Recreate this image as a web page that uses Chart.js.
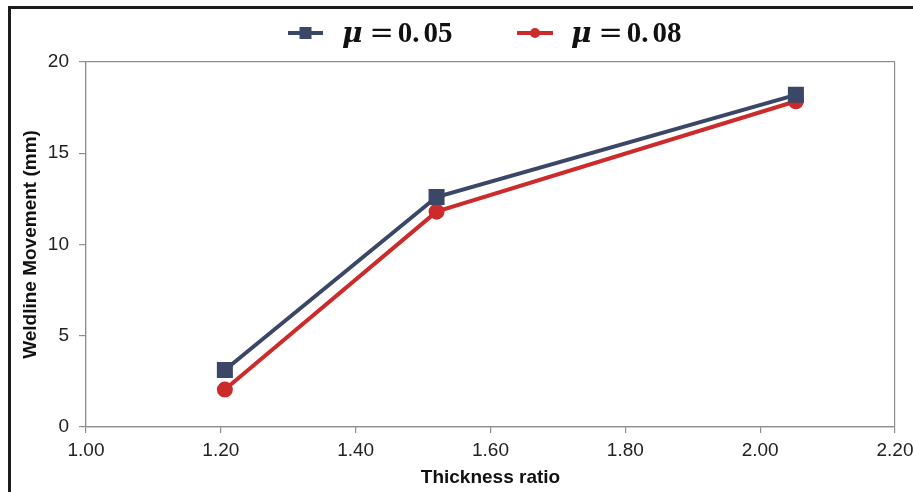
<!DOCTYPE html>
<html>
<head>
<meta charset="utf-8">
<script src="https://cdn.jsdelivr.net/npm/chart.js@4.4.1/dist/chart.umd.min.js"></script>
<style>
  html, body { margin: 0; padding: 0; background: #fff; overflow: hidden; }
  #wrap { position: absolute; left: 0; top: 0; width: 940px; height: 492px; }
  #frame {
    position: absolute; left: 8px; top: 6px; width: 960px; height: 520px;
    border-top: 3px solid #1c1c1c; border-left: 3px solid #1c1c1c;
    pointer-events: none;
  }
</style>
</head>
<body>
<div id="wrap"><canvas id="chart"></canvas></div>
<div id="frame"></div>
<script>
const thicknessRatio = [1.206, 1.52, 2.053];
const movementMu005 = [3.12, 12.6, 18.2];
const movementMu008 = [2.05, 11.8, 17.85];
const seriesNames = ['0.05', '0.08'];
const xRange = { min: 1.0, max: 2.2, step: 0.2 };
const yRange = { min: 0, max: 20, step: 5 };

const BLUE = '#3b4766';
const RED = '#cc2b2b';
const AXIS_GRAY = '#8e8e8e';

// legend with line + marker, drawn above the plot
const mathLegend = {
  id: 'mathLegend',
  afterDraw(chart) {
    const ctx = chart.ctx;
    const items = [
      { name: seriesNames[0], color: BLUE, marker: 'rect', x0: 288, x1: 323, tx: 342 },
      { name: seriesNames[1], color: RED, marker: 'circle', x0: 517, x1: 553, tx: 571 },
    ];
    const cy = 33;
    const base = 42;
    ctx.save();
    items.forEach(it => {
      ctx.strokeStyle = it.color;
      ctx.fillStyle = it.color;
      ctx.lineWidth = 4;
      ctx.beginPath();
      ctx.moveTo(it.x0, cy);
      ctx.lineTo(it.x1, cy);
      ctx.stroke();
      const mx = (it.x0 + it.x1) / 2;
      if (it.marker === 'rect') {
        ctx.fillRect(mx - 6, cy - 6, 12, 12);
      } else {
        ctx.beginPath();
        ctx.arc(mx, cy, 5, 0, Math.PI * 2);
        ctx.fill();
      }
      ctx.fillStyle = '#111';
      ctx.textBaseline = 'alphabetic';
      let x = it.tx;
      ctx.font = 'italic bold 28px "DejaVu Serif"';
      ctx.fillText('μ', x, base);
      x += ctx.measureText('μ').width + 7;
      ctx.font = '29px "DejaVu Serif"';
      ctx.fillText('=', x, base);
      x += ctx.measureText('=').width + 4;
      ctx.font = 'bold 29px "Liberation Serif"';
      const parts = it.name.split('.');
      ctx.fillText(parts[0] + '.', x, base);
      x += ctx.measureText(parts[0] + '.').width + 4;
      ctx.fillText(parts[1], x, base);
    });
    ctx.restore();
  }
};

const edgeColor = (c) => (c.index === 0 || c.index === c.scale.ticks.length - 1) ? AXIS_GRAY : 'transparent';

new Chart(document.getElementById('chart'), {
  type: 'line',
  data: {
    datasets: [
      {
        label: 'μ = ' + seriesNames[0],
        data: thicknessRatio.map((x, i) => ({ x, y: movementMu005[i] })),
        borderColor: BLUE,
        backgroundColor: BLUE,
        borderWidth: 4,
        pointStyle: 'rect',
        pointRadius: 8.5,
        pointHoverRadius: 8.5,
        tension: 0,
      },
      {
        label: 'μ = ' + seriesNames[1],
        data: thicknessRatio.map((x, i) => ({ x, y: movementMu008[i] })),
        borderColor: RED,
        backgroundColor: RED,
        borderWidth: 4,
        pointStyle: 'circle',
        pointRadius: 6,
        pointHoverRadius: 6,
        tension: 0,
      },
    ],
  },
  options: {
    responsive: true,
    maintainAspectRatio: false,
    animation: false,
    layout: { padding: { top: 62, right: 45, left: 0, bottom: 0 } },
    plugins: {
      legend: { display: false },
      tooltip: { enabled: false },
    },
    scales: {
      x: {
        type: 'linear',
        min: xRange.min,
        max: xRange.max,
        afterFit: s => { s.height = 65; },
        ticks: {
          stepSize: xRange.step,
          color: '#222',
          padding: 6,
          font: { family: 'Liberation Sans', size: 19 },
          callback: v => Number(v).toFixed(2),
        },
        grid: { color: edgeColor, tickColor: AXIS_GRAY, tickLength: 6, lineWidth: 1.2 },
        border: { color: AXIS_GRAY, width: 1.2 },
        title: {
          display: true,
          text: 'Thickness ratio',
          color: '#111',
          padding: { top: 0, bottom: 3 },
          font: { family: 'Liberation Sans', size: 19, weight: 'bold' },
        },
      },
      y: {
        min: yRange.min,
        max: yRange.max,
        afterFit: s => { s.width = 86; },
        ticks: {
          stepSize: yRange.step,
          color: '#222',
          padding: 10,
          font: { family: 'Liberation Sans', size: 19 },
        },
        grid: { color: edgeColor, tickColor: AXIS_GRAY, tickLength: 7, lineWidth: 1.2 },
        border: { color: AXIS_GRAY, width: 1.2 },
        title: {
          display: true,
          text: 'Weldline Movement (mm)',
          color: '#111',
          padding: { top: 19, bottom: 0 },
          font: { family: 'Liberation Sans', size: 19, weight: 'bold' },
        },
      },
    },
  },
  plugins: [mathLegend],
});
</script>
</body>
</html>
